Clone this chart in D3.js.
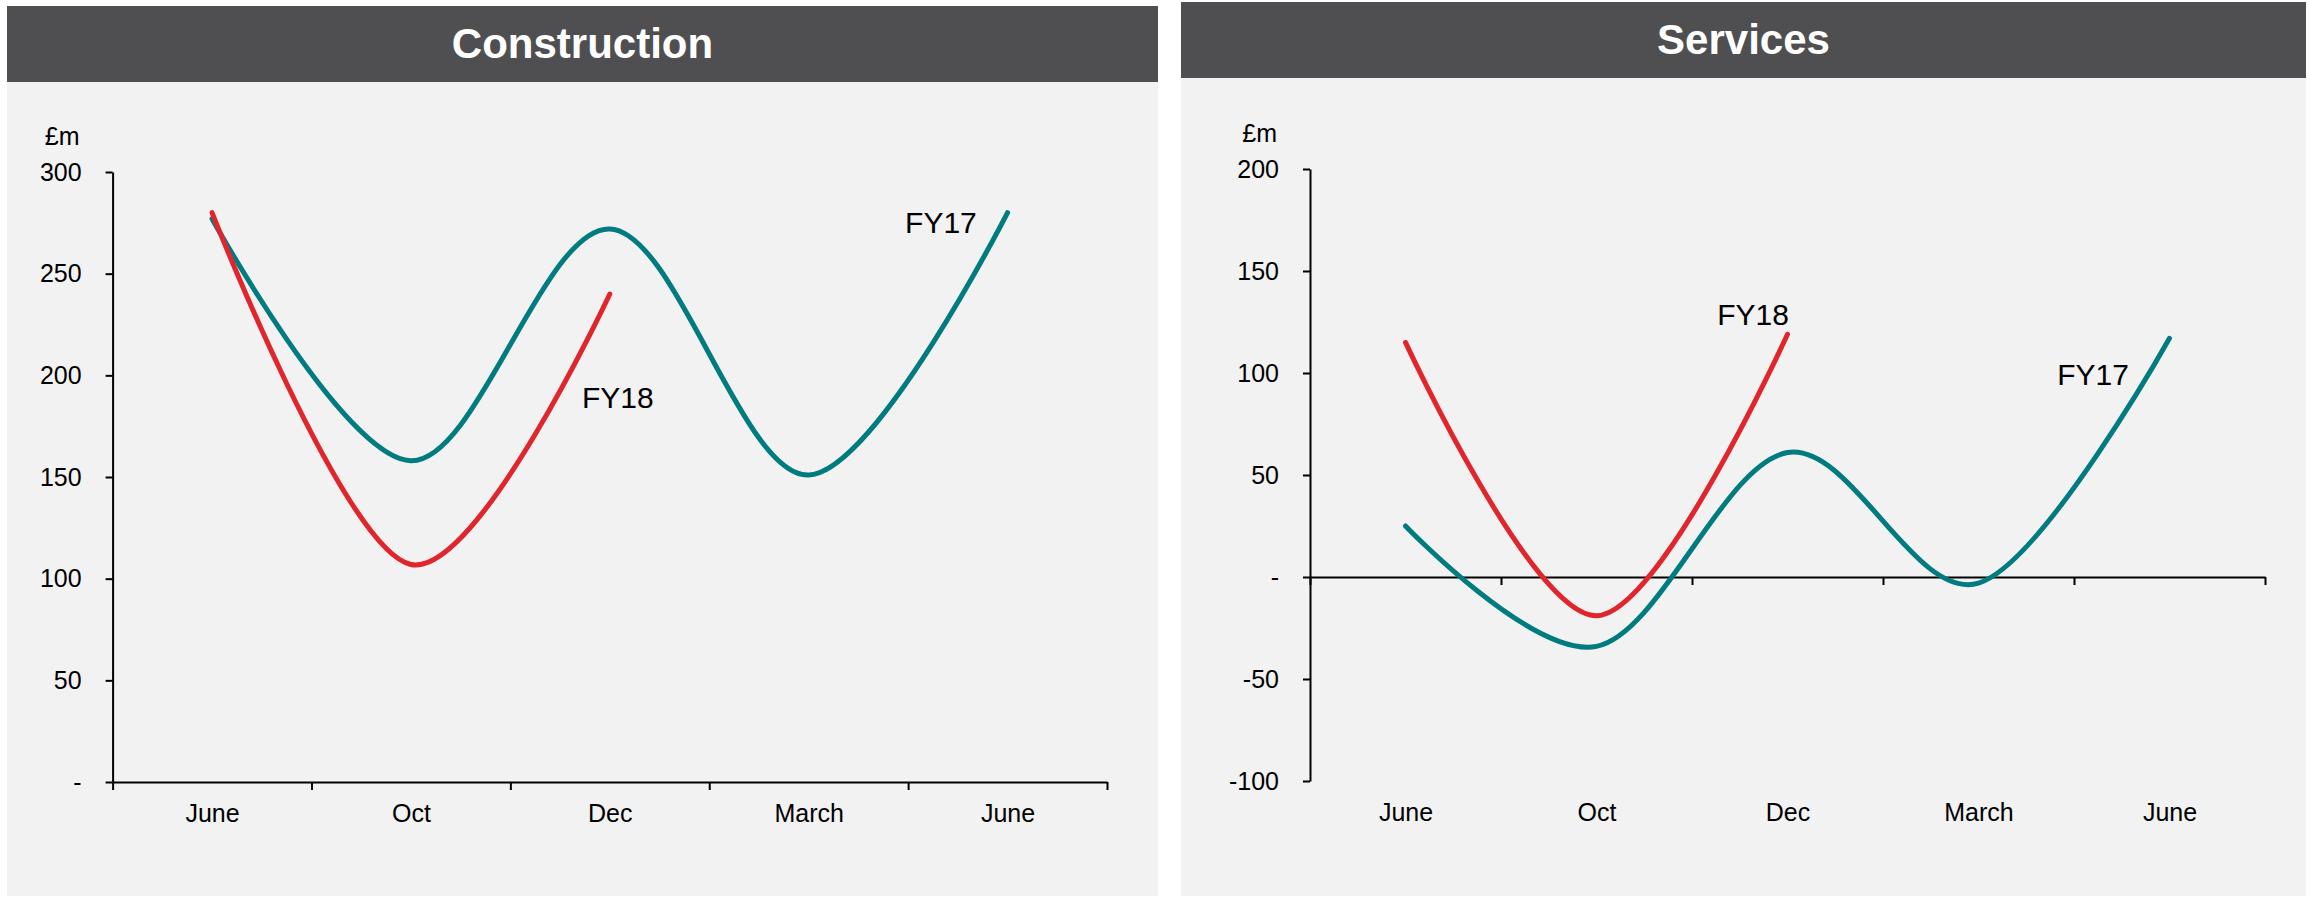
<!DOCTYPE html>
<html>
<head>
<meta charset="utf-8">
<script src="https://cdn.jsdelivr.net/npm/d3@7"></script>
<style>
  body { margin: 0; background: #fff; }
  svg { display: block; }
  text { font-family: "Liberation Sans", Arial, sans-serif; }
</style>
</head>
<body>
<script>
// values (£m)
const months = ['June', 'Oct', 'Dec', 'March', 'June'];
const constructionFY17 = [277, 158, 272, 151, 280];
const constructionFY18 = [280, 107, 240];
const servicesFY17 = [25, -34, 61, -3, 117];
const servicesFY18 = [115, -19, 119];
const constructionTicks = [0, 50, 100, 150, 200, 250, 300];
const servicesTicks = [-100, -50, 0, 50, 100, 150, 200];

const W = 2310, H = 900;
const TEAL = '#007b80', RED = '#e1252d';

const svg = d3.select('body').append('svg')
    .attr('width', W)
    .attr('height', H);

const fmt = d => d === 0 ? '-' : d;

const styleAxis = sel => {
    sel.selectAll('path, line').attr('stroke', '#000').attr('stroke-width', 2);
    sel.selectAll('text').attr('font-size', 25).attr('fill', '#000')
        .attr('font-family', '"Liberation Sans", Arial, sans-serif');
};

function panel(o) {
    const g = svg.append('g');

    g.append('rect')
        .attr('x', o.left).attr('y', o.top)
        .attr('width', o.width).attr('height', H - o.top - 4)
        .attr('fill', '#f2f2f2');
    g.append('rect')
        .attr('x', o.left).attr('y', o.top)
        .attr('width', o.width).attr('height', 76)
        .attr('fill', '#4f4f51');
    g.append('text')
        .attr('x', o.left + o.width / 2).attr('y', o.top + 52)
        .attr('text-anchor', 'middle')
        .attr('fill', '#fff')
        .attr('font-weight', 'bold')
        .attr('font-size', 42)
        .text(o.title);

    const x = d3.scaleLinear().domain([-0.5, months.length - 0.5]).range(o.xr);
    const y = d3.scaleLinear().domain(d3.extent(o.ticks)).range(o.yr);

    // y axis
    g.append('g')
        .attr('transform', `translate(${o.xr[0]},0)`)
        .call(d3.axisLeft(y).tickValues(o.ticks).tickFormat(fmt)
            .tickSize(7).tickPadding(24).tickSizeOuter(0))
        .call(styleAxis);

    g.append('text')
        .attr('x', o.xr[0] - 33).attr('y', y(o.ticks[o.ticks.length - 1]) - 27)
        .attr('text-anchor', 'end')
        .attr('font-size', 25)
        .text('£m');

    // x axis line at zero with ticks between months
    g.append('g')
        .attr('transform', `translate(0,${y(0)})`)
        .call(d3.axisBottom(x)
            .tickValues(d3.range(months.length + 1).map(i => i - 0.5))
            .tickFormat('').tickSize(8).tickSizeOuter(0))
        .call(styleAxis);

    // month labels sit below the plot
    g.append('g')
        .attr('transform', `translate(0,${o.yr[0]})`)
        .call(d3.axisBottom(x).tickValues(d3.range(months.length))
            .tickFormat(i => months[i]).tickSize(0).tickPadding(22))
        .call(styleAxis)
        .call(a => a.select('.domain').remove());

    const line = d3.line()
        .x((d, i) => x(i))
        .y(d => y(d))
        .curve(d3.curveCardinal);

    [[o.fy17, TEAL], [o.fy18, RED]].forEach(([data, color]) => {
        g.append('path')
            .datum(data)
            .attr('d', line)
            .attr('fill', 'none')
            .attr('stroke', color)
            .attr('stroke-width', 5)
            .attr('stroke-linecap', 'round');
    });

    o.labels.forEach(l => {
        g.append('text')
            .attr('x', x(l.i)).attr('y', y(l.v))
            .attr('text-anchor', 'middle')
            .attr('font-size', 30)
            .text(l.text);
    });
}

panel({
    title: 'Construction',
    left: 7, top: 6, width: 1151,
    xr: [112.6, 1107], yr: [782, 172],
    ticks: constructionTicks,
    fy17: constructionFY17, fy18: constructionFY18,
    labels: [{ text: 'FY17', i: 3.665, v: 270 }, { text: 'FY18', i: 2.04, v: 184 }]
});

panel({
    title: 'Services',
    left: 1181, top: 2, width: 1125,
    xr: [1310, 2265], yr: [781, 169],
    ticks: servicesTicks,
    fy17: servicesFY17, fy18: servicesFY18,
    labels: [{ text: 'FY18', i: 1.82, v: 123.5 }, { text: 'FY17', i: 3.6, v: 94 }]
});
</script>
</body>
</html>
